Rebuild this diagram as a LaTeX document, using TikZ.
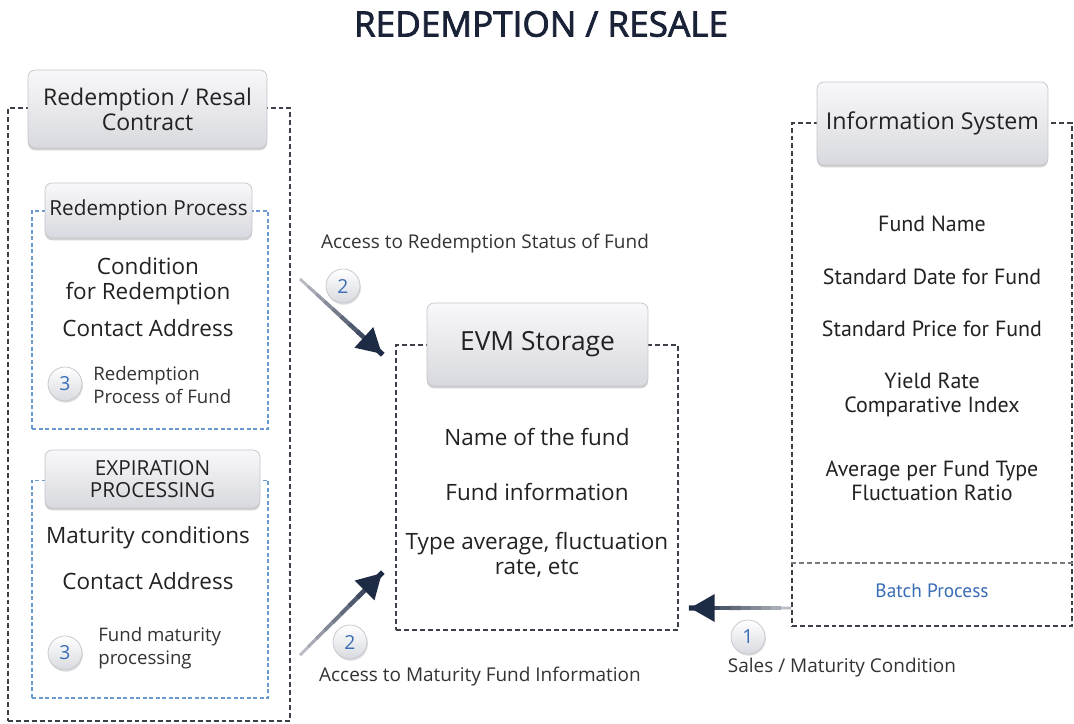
\documentclass[tikz,border=0pt]{standalone}
\usepackage{fontspec}
\setmainfont{Open Sans}
\newfontfamily\narrowfont{PT Sans}
\newfontfamily\titlefont[FakeBold=2.2]{Open Sans}
\usetikzlibrary{arrows.meta,shadows,calc}
\definecolor{navy}{HTML}{1E2B45}
\definecolor{titlec}{HTML}{1A2238}
\definecolor{tailgray}{HTML}{C9CBD0}
\definecolor{dashgray}{HTML}{3C4048}
\definecolor{dashblue}{HTML}{6A9AD0}
\definecolor{numblue}{HTML}{3A6DB5}
\definecolor{txt}{HTML}{222222}
\definecolor{lbl}{HTML}{333333}
\definecolor{hdrtop}{HTML}{F8F8FA}
\definecolor{hdrbot}{HTML}{D8D9DE}
\definecolor{hdrline}{HTML}{C4C5CA}
\definecolor{badgebot}{HTML}{D8DAE0}
\newcommand\gradarrow[2]{%
  \foreach \i in {0,...,9}{%
    \pgfmathsetmacro\pa{\i/10}%
    \pgfmathsetmacro\pb{(\i+1)/10+0.01}%
    \pgfmathtruncatemacro\gv{10+90*\i/9}%
    \pgfmathsetmacro\lw{1.6+1.4*\i/9}%
    \draw[line width=\lw pt, draw=navy!\gv!tailgray] ($(#1)!\pa!(#2)$) -- ($(#1)!\pb!(#2)$);
  }
  \draw[-{Triangle[length=14pt,width=15pt]}, draw=navy, line width=3pt] ($(#1)!0.85!(#2)$) -- (#2);
}
\begin{document}
\begin{tikzpicture}[x=0.02cm,y=-0.02cm,
  hdr/.style={draw=hdrline, rounded corners=4pt, top color=hdrtop, bottom color=hdrbot,
    drop shadow={shadow xshift=0pt, shadow yshift=-1.3pt, opacity=0.35},
    text=txt, align=center, inner sep=0pt},
  outerbox/.style={draw=dashgray, dash pattern=on 2.8pt off 1.7pt, line width=0.8pt, inner sep=0pt},
  innerbox/.style={draw=dashblue, dash pattern=on 2.3pt off 1.4pt, line width=0.6pt, inner sep=0pt},
  body/.style={text=txt, align=center, font=\fontsize{12.8}{14}\selectfont, inner sep=0pt},
  small/.style={text=lbl, align=left, font=\fontsize{10.6}{13}\selectfont, inner sep=0pt},
  label/.style={text=lbl, font=\fontsize{10.8}{12}\selectfont, inner sep=0pt},
  info/.style={text=txt, align=center, font=\narrowfont\fontsize{12.5}{13.8}\selectfont, inner sep=0pt},
  badge/.style={circle, minimum size=0.68cm, inner sep=0pt, draw=hdrline, top color=white, bottom color=badgebot,
    drop shadow={shadow xshift=0.5pt, shadow yshift=-1pt, opacity=0.25},
    text=numblue, font=\fontsize{11}{13}\selectfont}
]
\useasboundingbox (0,0) rectangle (1074,723);
\fill[white] (0,0) rectangle (1074,723);

% title
\node[text=titlec, font=\titlefont\fontsize{20}{24}\selectfont, inner sep=0pt] (title) at (541,24) {REDEMPTION / RESALE};

% left column
\node[outerbox, minimum width=5.64cm, minimum height=12.26cm] (outerL) at (149,414.5) {};
\node[hdr, minimum width=4.78cm, minimum height=1.56cm, font=\fontsize{13.1}{14.2}\selectfont] (hdrA) at (147.5,109) {Redemption / Resal\\Contract};

\node[innerbox, minimum width=4.72cm, minimum height=4.36cm] (innerB) at (150,320) {};
\node[hdr, minimum width=4.14cm, minimum height=1.1cm, font=\fontsize{11.8}{13}\selectfont] (hdrB) at (148.5,210.5) {Redemption Process};
\node[body] (condR) at (148,281) {Condition\\for Redemption};
\node[body] (contB) at (148,328) {Contact Address};
\node[badge] (b3a) at (65,384) {3};
\node[small, anchor=west] (procF) at (93,385) {Redemption\\Process of Fund};

\node[innerbox, minimum width=4.72cm, minimum height=4.36cm] (innerC) at (150,589) {};
\node[hdr, minimum width=4.3cm, minimum height=1.16cm, font=\fontsize{11.8}{13}\selectfont] (hdrC) at (152.5,479) {EXPIRATION\\PROCESSING};
\node[body] (matC) at (148,538) {Maturity conditions};
\node[body] (contC) at (148,581) {Contact Address};
\node[badge] (b3b) at (65,653) {3};
\node[small, anchor=west] (fundM) at (98,648) {Fund maturity\\processing};

% EVM storage
\node[outerbox, minimum width=5.64cm, minimum height=5.7cm] (evmBox) at (537,487.5) {};
\node[hdr, minimum width=4.42cm, minimum height=1.66cm, font=\fontsize{15}{16}\selectfont] (evmHdr) at (537.5,344.5) {EVM Storage};
\node[body] (nameF) at (537,437) {Name of the fund};
\node[body] (infoF) at (537,492) {Fund information};
\node[body] (typeA) at (537,555) {Type average, fluctuation\\rate, etc};

% information system
\node[outerbox, minimum width=5.6cm, minimum height=10.06cm] (infoBox) at (932,374.5) {};
\node[hdr, minimum width=4.62cm, minimum height=1.66cm, font=\fontsize{13.2}{14}\selectfont] (infoHdr) at (932.5,123.5) {Information System};
\node[info] (fName) at (932,224) {Fund Name};
\node[info] (sDate) at (932,277) {Standard Date for Fund};
\node[info] (sPrice) at (932,329) {Standard Price for Fund};
\node[info] (yield) at (932,395) {Yield Rate\\Comparative Index};
\node[info] (avgF) at (932,481) {Average per Fund Type\\Fluctuation Ratio};
\coordinate (sepY) at (0,563);
\draw[draw=dashgray!70, dash pattern=on 2.8pt off 1.7pt, line width=0.6pt] (infoBox.west |- sepY) -- (infoBox.east |- sepY);
\node[text=numblue, font=\narrowfont\fontsize{11}{13}\selectfont, inner sep=0pt] (batch) at (932,591) {Batch Process};

% arrows
\coordinate (a2s) at (300,279);
\coordinate (a2t) at (382,354);
\gradarrow{a2s}{a2t}
\coordinate (a2bs) at (300,655);
\coordinate (a2bt) at (382,573);
\gradarrow{a2bs}{a2bt}
\coordinate (a1t) at (690,608);
\gradarrow{infoBox.west |- a1t}{a1t}

% badges and labels
\node[badge] (b2a) at (343,286) {2};
\node[label] (accR) at (485,244) {Access to Redemption Status of Fund};
\node[badge] (b2b) at (350,642) {2};
\node[label] (accM) at (480,677) {Access to Maturity Fund Information};
\node[badge] (b1) at (748,637) {1};
\node[label] (sales) at (842,668) {Sales / Maturity Condition};
\end{tikzpicture}
\end{document}
